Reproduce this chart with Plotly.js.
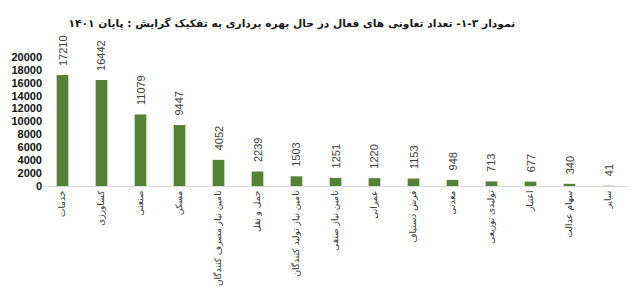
<!DOCTYPE html>
<html><head><meta charset="utf-8">
<script src="https://cdn.plot.ly/plotly-3.0.1.min.js"></script>
<style>html,body{margin:0;padding:0;background:#fff}#c{width:640px;height:296px}</style>
</head><body><div id="c"></div>
<script>
const categories = ["خدمات","کشاورزی","صنعتی","مسکن","تامین نیاز مصرف کنندگان","حمل و نقل","تامین نیاز تولید کنندگان","تامین نیاز صنفی","عمرانی","فرش دستباف","معدنی","تولیدی توزیعی","اعتبار","سهام عدالت","سایر"];
const counts = [17210,16442,11079,9447,4052,2239,1503,1251,1220,1153,948,713,677,340,41];
const yTicks = [0,2000,4000,6000,8000,10000,12000,14000,16000,18000,20000];
const titleText = "نمودار ۳-۱- تعداد تعاونی های فعال در حال بهره برداری به تفکیک گرایش : پایان ۱۴۰۱";

const trace = {
  type: 'bar', x: categories, y: counts,
  marker: {color: '#548235'},
  cliponaxis: false, hoverinfo: 'none'
};
const annotations = categories.map((c, i) => ({
  x: c, y: counts[i], xref: 'x', yref: 'y',
  text: String(counts[i]), textangle: -90, showarrow: false,
  xanchor: 'center', yanchor: 'bottom', yshift: 7,
  font: {family: 'Liberation Sans Narrow, Arial Narrow, sans-serif', size: 11, color: '#404040'}
}));
const layout = {
  width: 640, height: 296,
  margin: {l: 43, r: 12, t: 57, b: 110},
  paper_bgcolor: '#fff', plot_bgcolor: '#fff',
  bargap: 0.7,
  showlegend: false,
  annotations: annotations,
  title: {text: titleText, x: 0.456, xref: 'container', xanchor: 'center', y: 0.922, yref: 'container', yanchor: 'middle',
    font: {family: 'DejaVu Sans, sans-serif', size: 10.7, color: '#1a1a1a', weight: 'bold'}},
  xaxis: {type: 'category', tickangle: -90, showline: true, linecolor: '#d9d9d9', linewidth: 1, ticks: '', showgrid: false,
    tickfont: {family: 'DejaVu Sans, sans-serif', size: 9, color: '#333'}, automargin: false},
  yaxis: {range: [0, 20000], tickvals: yTicks, ticktext: yTicks.map(String), showgrid: false, zeroline: false, showline: false, ticks: '',
    tickfont: {family: 'Liberation Sans Narrow, Arial Narrow, sans-serif', size: 11, color: '#111', weight: 'bold'}, automargin: false}
};
Plotly.newPlot('c', [trace], layout, {staticPlot: true, displayModeBar: false});
</script>
</body></html>
